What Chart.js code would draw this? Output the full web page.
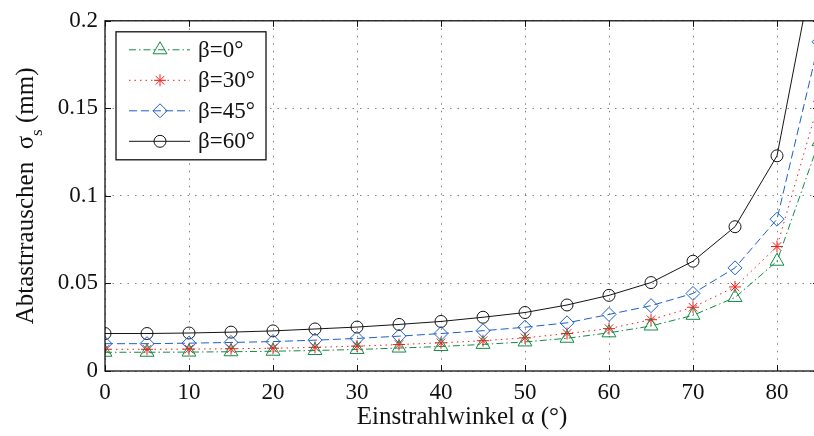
<!DOCTYPE html>
<head>
	<meta charset="utf-8">
	<title>Abtastrauschen</title>
	<script src="https://cdn.jsdelivr.net/npm/chart.js@4/dist/chart.umd.min.js"></script>
	<style>
		html, body { margin:0; padding:0; overflow:hidden; background:#fff; }
	</style>
</head>
<body>
<canvas id="myChart" width="830" height="436"></canvas>
<script type="text/javascript">
	// Einstrahlwinkel (Grad)
	var winkel = [0,5,10,15,20,25,30,35,40,45,50,55,60,65,70,75,80,85];
	// Abtastrauschen in mm
	var beta0  = [0.0107,0.0107,0.0108,0.0110,0.0113,0.0117,0.0123,0.0131,0.0140,0.0152,0.0166,0.0187,0.0218,0.0257,0.0318,0.0420,0.0627,0.131];
	var beta30 = [0.0124,0.0124,0.0125,0.0127,0.0130,0.0135,0.0142,0.0151,0.0161,0.0173,0.0189,0.0214,0.0242,0.0293,0.0364,0.0480,0.0711,0.154];
	var beta45 = [0.0156,0.0156,0.0159,0.0163,0.0168,0.0176,0.0186,0.0199,0.0214,0.0230,0.0250,0.0275,0.0323,0.0373,0.0443,0.0589,0.0867,0.188];
	var beta60 = [0.0214,0.0214,0.0217,0.0222,0.0229,0.0240,0.0251,0.0266,0.0283,0.0307,0.0334,0.0377,0.0432,0.0505,0.0627,0.0824,0.1229,0.247];
	var legendLabels = ['β=0°','β=30°','β=45°','β=60°'];
	var xTickLabels = ['0','10','20','30','40','50','60','70','80'];
	var yTickLabels = ['0','0.05','0.1','0.15','0.2'];

	var serif = '"Liberation Serif", "Times New Roman", serif';

	function points(ys){
		var arr = [];
		for (var i = 0; i < winkel.length; i++) arr.push({x: winkel[i], y: ys[i]});
		return arr;
	}
	function serie(label, ys, color, dash, style, r){
		this.label = label;
		this.data = points(ys);
		this.borderColor = color;
		this.borderWidth = 1;
		this.borderDash = dash;
		this.pointStyle = style;
		this.pointRadius = r;
		this.pointBorderColor = color;
		this.pointBackgroundColor = 'rgba(0,0,0,0)';
		this.pointBorderWidth = 1;
		this.tension = 0;
		this.fill = false;
	}

	var database = [
		new serie(legendLabels[0], beta0,  'rgb(20,140,70)', [7,3,1.5,3], 'triangle', 8),
		new serie(legendLabels[1], beta30, 'rgb(240,30,30)', [1.5,4], 'star', 6),
		new serie(legendLabels[2], beta45, 'rgb(30,95,200)', [8,4], 'rectRot', 7),
		new serie(legendLabels[3], beta60, 'rgb(20,20,20)', [], 'circle', 6)
	];

	// Rahmen mit Ticks nach innen, Legende, y-Titel mit Index
	var matlabLook = {
		id: 'matlabLook',
		afterDraw: function(chart){
			var ctx = chart.ctx, a = chart.chartArea;
			var xs = chart.scales.x, ys = chart.scales.y;
			ctx.save();
			ctx.strokeStyle = '#111';
			ctx.lineWidth = 1.3;
			ctx.setLineDash([]);
			ctx.strokeRect(a.left, a.top, a.right - a.left, a.bottom - a.top);
			ctx.lineWidth = 1;
			var tl = 6;
			xs.ticks.forEach(function(t){
				var px = Math.round(xs.getPixelForValue(t.value)) + 0.5;
				ctx.beginPath();
				ctx.moveTo(px, a.bottom); ctx.lineTo(px, a.bottom - tl);
				ctx.moveTo(px, a.top); ctx.lineTo(px, a.top + tl);
				ctx.stroke();
			});
			ys.ticks.forEach(function(t){
				var py = Math.round(ys.getPixelForValue(t.value)) + 0.5;
				ctx.beginPath();
				ctx.moveTo(a.left, py); ctx.lineTo(a.left + tl, py);
				ctx.moveTo(a.right, py); ctx.lineTo(a.right - tl, py);
				ctx.stroke();
			});

			// Legende
			var lx = a.left + 11, ly = a.top + 11, lw = 150, lh = 128;
			ctx.fillStyle = '#fff';
			ctx.fillRect(lx, ly, lw, lh);
			ctx.strokeStyle = '#111';
			ctx.lineWidth = 1.3;
			ctx.strokeRect(lx, ly, lw, lh);
			chart.data.datasets.forEach(function(ds, i){
				var ry = ly + 18 + i * 30.5;
				ctx.strokeStyle = ds.borderColor;
				ctx.lineWidth = 1;
				ctx.setLineDash(ds.borderDash);
				ctx.beginPath();
				ctx.moveTo(lx + 13, ry); ctx.lineTo(lx + 74, ry);
				ctx.stroke();
				ctx.setLineDash([]);
				ctx.fillStyle = 'rgba(0,0,0,0)';
				Chart.helpers.drawPoint(ctx, {pointStyle: ds.pointStyle, radius: ds.pointRadius, rotation: 0, borderWidth: 1}, lx + 44, ry);
				ctx.fillStyle = '#111';
				ctx.font = '23px ' + serif;
				ctx.textAlign = 'left';
				ctx.textBaseline = 'middle';
				ctx.fillText(ds.label, lx + 82, ry + 1);
			});

			// y-Achsentitel
			var big = '25px ' + serif, small = '17px ' + serif;
			var p1 = 'Abtastrrauschen  σ', p2 = 's', p3 = ' (mm)';
			ctx.font = big; var w1 = ctx.measureText(p1).width, w3 = ctx.measureText(p3).width;
			ctx.font = small; var w2 = ctx.measureText(p2).width;
			var total = w1 + w2 + w3;
			ctx.translate(33, (a.top + a.bottom) / 2);
			ctx.rotate(-Math.PI / 2);
			ctx.fillStyle = '#111';
			ctx.textAlign = 'left';
			ctx.textBaseline = 'alphabetic';
			var sx = -total / 2;
			ctx.font = big; ctx.fillText(p1, sx, 0);
			ctx.font = small; ctx.fillText(p2, sx + w1, 9);
			ctx.font = big; ctx.fillText(p3, sx + w1 + w2, 0);
			ctx.restore();
		}
	};

	var ctx = document.getElementById('myChart').getContext('2d');
	var chart = new Chart(ctx, {
		type: 'line',
		data: { datasets: database },
		options: {
			responsive: false,
			animation: false,
			events: [],
			layout: { padding: { left: 0, top: 16, right: 11, bottom: 0 } },
			plugins: { legend: { display: false }, tooltip: { enabled: false } },
			scales: {
				x: {
					type: 'linear',
					min: 0, max: 85,
					afterFit: function(s){ s.height = 65; },
					grid: { color: 'rgba(0,0,0,0.5)', lineWidth: 1, drawTicks: false },
					border: { display: false, dash: [1.5, 6] },
					ticks: {
						stepSize: 10, includeBounds: false, padding: 8,
						color: '#111', font: { family: serif, size: 23 },
						callback: function(v){ return xTickLabels[Math.round(v / 10)]; }
					},
					title: {
						display: true, text: 'Einstrahlwinkel α (°)', color: '#111',
						font: { family: serif, size: 25 }, padding: { top: 0, bottom: 4 }
					}
				},
				y: {
					min: 0, max: 0.2,
					afterFit: function(s){ s.width = 105; },
					grid: { color: 'rgba(0,0,0,0.5)', lineWidth: 1, drawTicks: false },
					border: { display: false, dash: [1.5, 6] },
					ticks: {
						stepSize: 0.05, padding: 7,
						color: '#111', font: { family: serif, size: 23 },
						callback: function(v){ return yTickLabels[Math.round(v / 0.05)]; }
					}
				}
			}
		},
		plugins: [matlabLook]
	});
</script>
</body>
</html>
